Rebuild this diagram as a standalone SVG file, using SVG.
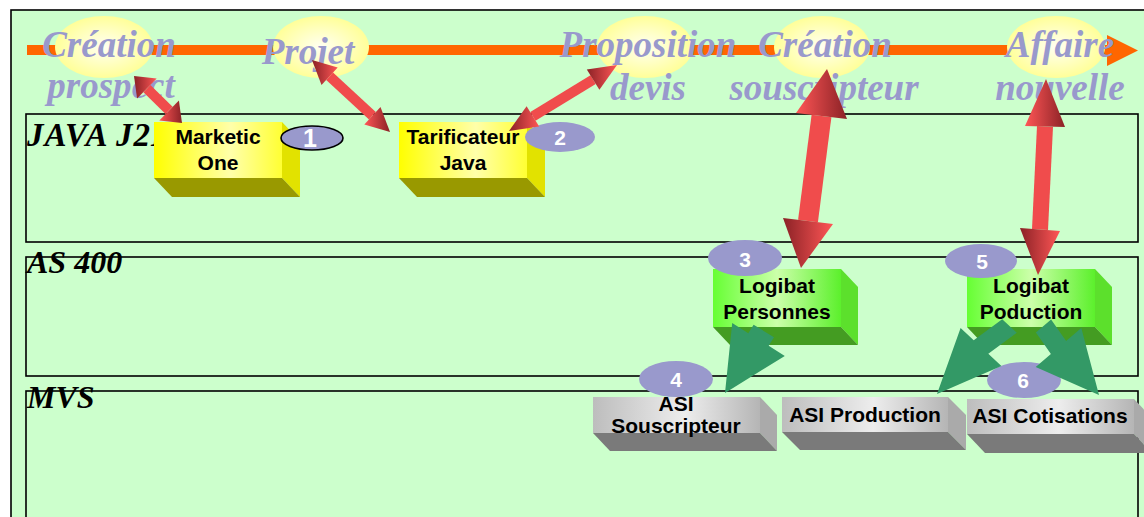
<svg xmlns="http://www.w3.org/2000/svg" width="1144" height="517" viewBox="0 0 1144 517">
<defs>
<radialGradient id="glow" cx="0.5" cy="0.5" r="0.5">
<stop offset="0" stop-color="#FFFFF2"/>
<stop offset="1" stop-color="#FFFF99"/>
</radialGradient>
<linearGradient id="yel" x1="0" y1="0" x2="1" y2="0">
<stop offset="0" stop-color="#FFFF00"/>
<stop offset="0.6" stop-color="#FFFFAA"/>
<stop offset="1" stop-color="#FFFF33"/>
</linearGradient>
<linearGradient id="grn" x1="0" y1="0" x2="1" y2="0">
<stop offset="0" stop-color="#66FF33"/>
<stop offset="0.5" stop-color="#CCFFAA"/>
<stop offset="1" stop-color="#5CF02C"/>
</linearGradient>
<linearGradient id="gry" x1="0" y1="0" x2="1" y2="0">
<stop offset="0" stop-color="#BDBDBD"/>
<stop offset="0.55" stop-color="#EDEDED"/>
<stop offset="1" stop-color="#B5B5B5"/>
</linearGradient>
<linearGradient id="rDL" x1="0" y1="0" x2="1" y2="0">
<stop offset="0" stop-color="#8B2226"/>
<stop offset="1" stop-color="#FF5656"/>
</linearGradient>
<linearGradient id="rLD" x1="0" y1="0" x2="1" y2="0">
<stop offset="0" stop-color="#FF5656"/>
<stop offset="1" stop-color="#8B2226"/>
</linearGradient>
</defs>
<style>
.lane{fill:none;stroke:#000;stroke-width:1.6}
.lab{font-family:"Liberation Serif","Times New Roman",serif;font-weight:bold;font-style:italic;font-size:32px;fill:#000}
.stg{font-family:"Liberation Serif","Times New Roman",serif;font-weight:bold;font-style:italic;font-size:37px;fill:#9999CC;text-anchor:middle}
.glow{fill:url(#glow)}
.t{font-family:"Liberation Sans",Arial,sans-serif;font-weight:bold;font-size:21px;fill:#000;text-anchor:middle}
.num{font-family:"Liberation Sans",Arial,sans-serif;font-weight:bold;font-size:21px;fill:#fff;text-anchor:middle}
.badge{fill:#9999CC}
.yf{fill:url(#yel)} .yr{fill:#E2E200} .yb{fill:#999900}
.gf{fill:url(#grn)} .gr{fill:#5CE02C} .gb{fill:#449C22}
.sf{fill:url(#gry)} .sr{fill:#AAAAAA} .sb{fill:#7A7A7A}
.shaft{fill:#F04C4C}
.hdl{fill:url(#rDL)} .hld{fill:url(#rLD)}
.g{fill:#339966}
</style>
<rect x="0" y="0" width="1144" height="517" fill="#FFFFFF"/>
<rect x="11" y="10" width="1150" height="520" fill="#CCFFCC" stroke="#000" stroke-width="1.6"/>

<g id="timeline">
<rect x="27" y="45" width="1082" height="10" fill="#FF6600"/>
<polygon points="1107,35 1138,50.5 1107,66" fill="#FF6600"/>
</g>

<g id="lanes">
<rect class="lane" x="26" y="114" width="1112" height="128"/>
<rect class="lane" x="26" y="257" width="1112" height="119"/>
<rect class="lane" x="26" y="391" width="1112" height="200"/>
<text class="lab" x="27" y="146" style="font-size:33px;letter-spacing:1px">JAVA J2EE</text>
<text class="lab" x="27" y="273">AS 400</text>
<text class="lab" x="27" y="408">MVS</text>
</g>

<g id="stage-creation-prospect">
<ellipse class="glow" cx="104" cy="47" rx="49" ry="31"/>
<text class="stg" x="109" y="57">Création</text>
<text class="stg" x="111" y="98">prospect</text>
</g>
<g id="stage-projet">
<ellipse class="glow" cx="321" cy="47" rx="48" ry="31"/>
<text class="stg" x="308" y="64">Projet</text>
</g>
<g id="stage-proposition-devis">
<ellipse class="glow" cx="645" cy="47" rx="48" ry="31"/>
<text class="stg" x="648" y="57">Proposition</text>
<text class="stg" x="648" y="100">devis</text>
</g>
<g id="stage-creation-souscripteur">
<ellipse class="glow" cx="822" cy="47" rx="48" ry="31"/>
<text class="stg" x="825" y="57">Création</text>
<text class="stg" x="824" y="100">souscripteur</text>
</g>
<g id="stage-affaire-nouvelle">
<ellipse class="glow" cx="1056" cy="47" rx="49" ry="31"/>
<text class="stg" x="1060" y="57">Affaire</text>
<text class="stg" x="1060" y="100">nouvelle</text>
</g>

<g id="node-marketic-one">
<rect class="yf" x="154" y="122" width="128" height="56"/>
<polygon class="yr" points="282,122 300,141 300,197 282,178"/>
<polygon class="yb" points="154,178 282,178 300,197 172,197"/>
<text class="t" x="218" y="144">Marketic</text>
<text class="t" x="218" y="170">One</text>
</g>
<g id="node-tarificateur-java">
<rect class="yf" x="399" y="122" width="128" height="56"/>
<polygon class="yr" points="527,122 545,141 545,197 527,178"/>
<polygon class="yb" points="399,178 527,178 545,197 417,197"/>
<text class="t" x="463" y="144">Tarificateur</text>
<text class="t" x="463" y="170">Java</text>
</g>
<g id="node-logibat-personnes">
<rect class="gf" x="713" y="269" width="128" height="58"/>
<polygon class="gr" points="841,269 858,287 858,345 841,327"/>
<polygon class="gb" points="713,327 841,327 858,345 730,345"/>
<text class="t" x="777" y="293">Logibat</text>
<text class="t" x="777" y="319">Personnes</text>
</g>
<g id="node-logibat-poduction">
<rect class="gf" x="967" y="269" width="128" height="58"/>
<polygon class="gr" points="1095,269 1112,287 1112,345 1095,327"/>
<polygon class="gb" points="967,327 1095,327 1112,345 984,345"/>
<text class="t" x="1031" y="293">Logibat</text>
<text class="t" x="1031" y="319">Poduction</text>
</g>
<g id="node-asi-souscripteur">
<rect class="sf" x="593" y="397" width="167" height="36"/>
<polygon class="sr" points="760,397 777,415 777,451 760,433"/>
<polygon class="sb" points="593,433 760,433 777,451 610,451"/>
<text class="t" x="676" y="411">ASI</text>
<text class="t" x="676" y="433">Souscripteur</text>
</g>
<g id="node-asi-production">
<rect class="sf" x="782" y="397" width="166" height="35"/>
<polygon class="sr" points="948,397 966,415 966,450 948,432"/>
<polygon class="sb" points="782,432 948,432 966,450 800,450"/>
<text class="t" x="865" y="422">ASI Production</text>
</g>
<g id="node-asi-cotisations">
<rect class="sf" x="967" y="399" width="167" height="35"/>
<polygon class="sr" points="1134,399 1152,418 1152,453 1134,434"/>
<polygon class="sb" points="967,434 1134,434 1152,453 985,453"/>
<text class="t" x="1050" y="423">ASI Cotisations</text>
</g>

<g id="badge-1"><ellipse class="badge" cx="312" cy="138" rx="31" ry="12" stroke="#000" stroke-width="1.6"/><text class="num" x="310" y="147" style="font-size:25px">1</text></g>
<g id="badge-2"><ellipse class="badge" cx="560" cy="137" rx="35" ry="15"/><text class="num" x="560" y="145">2</text></g>
<g id="badge-3"><ellipse class="badge" cx="745" cy="258" rx="37" ry="18"/><text class="num" x="745" y="267">3</text></g>
<g id="badge-4"><ellipse class="badge" cx="676" cy="379" rx="37" ry="18"/><text class="num" x="676" y="387">4</text></g>
<g id="badge-5"><ellipse class="badge" cx="981" cy="261" rx="36" ry="17"/><text class="num" x="982" y="269">5</text></g>
<g id="badge-6"><ellipse class="badge" cx="1024" cy="380" rx="37" ry="18"/><text class="num" x="1023" y="388">6</text></g>

<g id="connectors">
<g id="arrow-prospect-marketic">
<polygon class="shaft" points="150.4,85 172.6,106.8 165.6,114 143.4,92.2"/>
<polygon class="hdl" points="134,76 156.7,78.6 137.1,98.6"/>
<polygon class="hld" points="182,123 178.9,100.4 159.3,120.4"/>
</g>
<g id="arrow-projet-tarificateur">
<polygon class="shaft" points="333,72.6 375.8,112 369,119.4 326.2,80"/>
<polygon class="hdl" points="312,60 337.7,67.5 321.5,85.1"/>
<polygon class="hld" points="390,132 380.5,106.9 364.3,124.5"/>
</g>
<g id="arrow-proposition-tarificateur">
<polygon class="shaft" points="590.5,75.3 595.7,83.9 535.5,120.7 530.3,112.1"/>
<polygon class="hdl" points="617,65 599.4,89.8 586.8,69.4"/>
<polygon class="hdl" points="509,131 539.2,126.6 526.6,106.2"/>
</g>
<g id="arrow-souscripteur-logibat">
<polygon class="shaft" points="811.6,114.7 831.4,117.3 817.9,222.3 798.1,219.7"/>
<polygon class="hld" points="827,69 847,119 796,113"/>
<polygon class="hdl" points="801,268 783,218 833,224"/>
</g>
<g id="arrow-affaire-logibat">
<polygon class="shaft" points="1037,126.1 1053,126.9 1048,229.9 1032,229.1"/>
<polygon class="hld" points="1046,79 1065,127 1025,126"/>
<polygon class="hdl" points="1038,275 1020,228 1060,231"/>
</g>
<polygon class="g" points="753.6,324.7 748.3,333.2 732.2,323.1 725,393 784.8,355.9 768.7,345.8 774,337.3"/>
<polygon class="g" points="1002.2,319.2 973.7,340.2 960.6,327.9 937,394 1001.4,366.1 988.3,353.8 1016.8,332.8"/>
<polygon class="g" points="1035.9,332.5 1051.1,319.5 1066.1,341 1081.3,328 1099,395 1035.7,367 1050.9,354"/>
</g>
</svg>
